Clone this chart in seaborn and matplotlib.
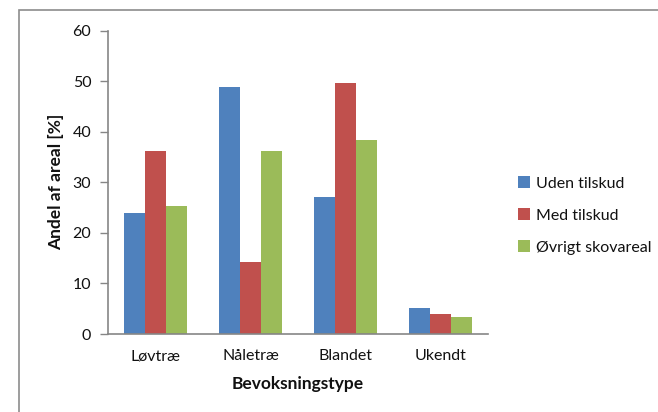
import matplotlib
matplotlib.use("Agg")
import matplotlib.pyplot as plt
from matplotlib.patches import Rectangle, Patch
import pandas as pd
import seaborn as sns

categories = ["Løvtræ", "Nåletræ", "Blandet", "Ukendt"]
series_names = ["Uden tilskud", "Med tilskud", "Øvrigt skovareal"]
uden_tilskud = [24.0, 48.9, 27.1, 5.2]
med_tilskud = [36.3, 14.2, 49.6, 4.0]
oevrigt = [25.3, 36.3, 38.4, 3.4]
y_ticks = [0, 10, 20, 30, 40, 50, 60]
colors = ["#4F81BD", "#C0504D", "#9BBB59"]

rows = []
for name, vals in zip(series_names, [uden_tilskud, med_tilskud, oevrigt]):
    for cat, v in zip(categories, vals):
        rows.append({"Bevoksningstype": cat, "Serie": name, "Andel": v})
df = pd.DataFrame(rows)

sns.set_theme(style="white")
plt.rcParams["font.family"] = ["Lato", "DejaVu Sans"]

W, H = 658, 412
fig = plt.figure(figsize=(W / 100, H / 100), dpi=100)
ax = fig.add_axes([108 / W, 1 - 334 / H, (488 - 108) / W, (334 - 30.7) / H])

sns.barplot(data=df, x="Bevoksningstype", y="Andel", hue="Serie",
            order=categories, hue_order=series_names, palette=colors,
            width=0.66, saturation=1, linewidth=0, legend=False, ax=ax)

ax.set_xlim(-0.5, 3.5)
ax.set_ylim(0, 60)
ax.set_yticks(y_ticks)
ax.tick_params(axis="y", direction="out", length=6, width=1, color="#868686",
               labelsize=11.5, pad=6, left=True, labelcolor="#111111")
ax.tick_params(axis="x", length=0, labelsize=11.5, pad=11, labelcolor="#111111")
for s in ["top", "right"]:
    ax.spines[s].set_visible(False)
for s in ["left", "bottom"]:
    ax.spines[s].set_color("#868686")
    ax.spines[s].set_linewidth(1.2)
ax.set_xlabel("Bevoksningstype", fontsize=12.5, fontweight="bold", labelpad=9,
              color="#111111")
ax.set_ylabel("Andel af areal [%]", fontsize=12.5, fontweight="bold", labelpad=6,
              color="#111111")

handles = [Patch(facecolor=c, edgecolor="none") for c in colors]
fig.legend(handles, series_names, loc="upper left",
           bbox_to_anchor=(512 / W, 1 - 170 / H), frameon=False,
           fontsize=11.5, handlelength=0.75, handleheight=0.75,
           handletextpad=0.35, labelspacing=1.1, borderaxespad=0,
           labelcolor="#111111")

# chart area border
fig.patches.append(Rectangle((19 / W, -0.1), 1.2, 1 - 10 / H + 0.1,
                             transform=fig.transFigure, fill=False,
                             edgecolor="#8c8c8c", linewidth=1.2))

fig.savefig("out.png", dpi=100)
